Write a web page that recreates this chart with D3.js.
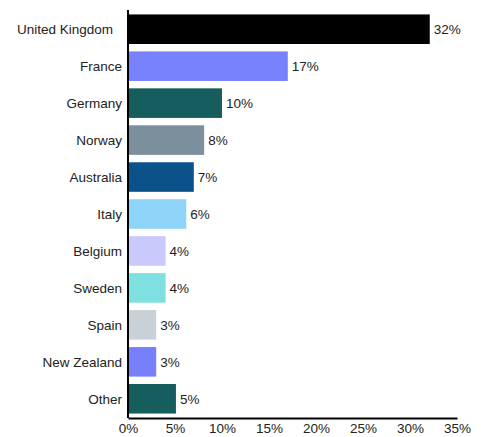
<!DOCTYPE html>
<html>
  <head>
    <meta charset="utf-8">
    <script src="https://cdn.jsdelivr.net/npm/d3@7"></script>
    <style>
      body { margin: 0; background: #fff; }
      text { font-family: "Liberation Sans", Arial, sans-serif; font-size: 13.5px; fill: #222; }
    </style>
  </head>
  <body>
    <svg width="481" height="437"></svg>

    <script>
      // Share per country (percent)
      var countries = ['United Kingdom', 'France', 'Germany', 'Norway', 'Australia', 'Italy',
                       'Belgium', 'Sweden', 'Spain', 'New Zealand', 'Other'];
      var shares = [32.1, 17.0, 10.0, 8.1, 7.0, 6.2, 4.0, 4.0, 3.0, 3.0, 5.1];
      var colors = ['#000000', '#7781fb', '#165e5e', '#7b8f9d', '#0b518a', '#8dd4f8',
                    '#c9c9fb', '#7ee0e0', '#c9d1d8', '#777ffb', '#165e5e'];
      var xTicks = [0, 5, 10, 15, 20, 25, 30, 35];

      var margin = { left: 128, top: 10 };
      var width = 329, height = 408;

      var svg = d3.select('svg');
      var g = svg.append('g').attr('transform', 'translate(' + margin.left + ',' + margin.top + ')');

      var x = d3.scaleLinear().domain([0, 35]).range([0, width]);
      var y = d3.scaleBand().domain(countries).range([0, height]).paddingInner(0.2).paddingOuter(0.12);

      var data = countries.map(function(c, i) { return { name: c, value: shares[i], color: colors[i] }; });

      // bars
      g.selectAll('rect.bar').data(data).enter()
        .append('rect')
        .attr('class', 'bar')
        .attr('x', 0)
        .attr('y', function(d) { return y(d.name); })
        .attr('width', function(d) { return x(d.value); })
        .attr('height', y.bandwidth())
        .attr('fill', function(d) { return d.color; });

      // value labels
      g.selectAll('text.val').data(data).enter()
        .append('text')
        .attr('class', 'val')
        .attr('x', function(d) { return x(d.value) + 4; })
        .attr('y', function(d) { return y(d.name) + y.bandwidth() / 2; })
        .attr('dy', '0.35em')
        .text(function(d) { return Math.round(d.value) + '%'; });

      // category labels
      g.selectAll('text.cat').data(data).enter()
        .append('text')
        .attr('class', 'cat')
        .attr('x', function(d) { return d.name === 'United Kingdom' ? -15 : -6; })
        .attr('y', function(d) { return y(d.name) + y.bandwidth() / 2; })
        .attr('dy', '0.35em')
        .attr('text-anchor', 'end')
        .text(function(d) { return d.name; });

      // x axis
      var xAxis = d3.axisBottom(x).tickValues(xTicks).tickSize(0).tickPadding(5)
        .tickFormat(function(d) { return d + '%'; });
      var ax = g.append('g').attr('transform', 'translate(0,' + height + ')').call(xAxis);
      ax.select('.domain').attr('stroke', '#000').attr('stroke-width', 2);
      ax.selectAll('text').attr('font-size', 13.5).attr('font-family', '"Liberation Sans", Arial, sans-serif').attr('fill', '#222');

      // y axis line
      g.append('line')
        .attr('x1', 0).attr('x2', 0)
        .attr('y1', 0).attr('y2', height)
        .attr('stroke', '#000').attr('stroke-width', 2);
    </script>
  </body>
</html>
